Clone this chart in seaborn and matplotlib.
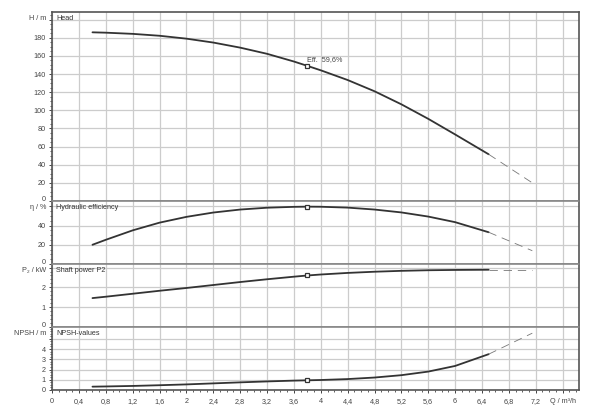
import numpy as np
import pandas as pd
import seaborn as sns
import matplotlib.pyplot as plt
from matplotlib.ticker import MultipleLocator, FixedLocator

# flow rate Q (m3/h) where the curves were read
q = [0.6, 0.8, 1.2, 1.6, 2.0, 2.4, 2.8, 3.2, 3.6, 3.8, 4.0, 4.4, 4.8, 5.2, 5.6, 6.0, 6.5]
head = [186, 185.6, 184.3, 182.2, 179, 174.7, 169.1, 162.3, 153.8, 149, 144.1, 133.4, 121, 106.6, 90.6, 73.4, 51.5]
eff = [20, 25.2, 35, 43, 49, 53.5, 56.6, 58.5, 59.4, 59.6, 59.5, 58.6, 56.6, 53.6, 49.3, 43.5, 33]
power = [1.46, 1.53, 1.68, 1.83, 1.97, 2.12, 2.27, 2.41, 2.54, 2.6, 2.65, 2.73, 2.79, 2.835, 2.865, 2.88, 2.89]
npsh = [0.33, 0.35, 0.4, 0.47, 0.55, 0.65, 0.75, 0.84, 0.92, 0.95, 0.98, 1.07, 1.22, 1.45, 1.8, 2.35, 3.5]

# dashed extension beyond the allowed range
q_ext = [6.5, 7.15]
head_ext = [51.5, 20]
eff_ext = [33, 13.8]
power_ext = [2.89, 2.89]
npsh_ext = [3.5, 5.55]

q_duty = 3.8
eff_label = 'Eff.  59,6%'

df = pd.DataFrame({'Q': q, 'Head': head, 'Eff': eff, 'Power': power, 'NPSH': npsh})
df_ext = pd.DataFrame({'Q': q_ext, 'Head': head_ext, 'Eff': eff_ext, 'Power': power_ext, 'NPSH': npsh_ext})
duty = df[df['Q'] == q_duty]

sns.set_style('white')
plt.rcParams['font.family'] = ['Liberation Sans', 'DejaVu Sans']
fs = 5.2

fig, axes = plt.subplots(4, 1, figsize=(6, 4.11), dpi=100, sharex=True,
                         gridspec_kw={'height_ratios': [3, 1, 1, 1], 'hspace': 0})
fig.subplots_adjust(left=0.087, right=0.9655, top=0.971, bottom=0.051)

# column, title, ylim top, major step, minor step, top tick, unit label
panels = [
    ('Head', 'Head', 208.5, 20, 5, 200, 'H / m'),
    ('Eff', 'Hydraulic efficiency', 65.5, 20, 5, 60, 'η / %'),
    ('Power', 'Shaft power P2', 3.18, 1, 0.2, 3, 'P₂ / kW'),
    ('NPSH', 'NPSH-values', 6.15, 1, 0.25, 5, 'NPSH / m'),
]

line_col = '#333333'
grid_col = '#cccccc'
txt_col = '#444444'

for i, (ax, (col, title, ytop, major, minor, upos, ulabel)) in enumerate(zip(axes, panels)):
    sns.lineplot(data=df, x='Q', y=col, ax=ax, color=line_col, lw=1.3, sort=False)
    sns.lineplot(data=df_ext, x='Q', y=col, ax=ax, color='#777777', lw=0.6,
                 dashes=False, linestyle=(0, (10, 7)))
    ax.plot(duty['Q'], duty[col], 's', ms=3, mfc='white', mec=line_col, mew=0.9)

    ax.set_xlim(0, 7.85)
    ax.set_ylim(0, ytop)
    ticks = list(np.arange(0, upos + major / 2, major))
    ax.yaxis.set_major_locator(FixedLocator(ticks))
    # 0 and the unit label are drawn by hand so they do not collide between panels
    ax.set_yticklabels([''] + [f'{t:g}' for t in ticks[1:-1]] + [''])
    ax.yaxis.set_minor_locator(MultipleLocator(minor))
    ax.xaxis.set_major_locator(MultipleLocator(0.4))
    ax.xaxis.set_minor_locator(MultipleLocator(0.1))
    ax.grid(True, which='major', color=grid_col, lw=0.9)
    ax.set_axisbelow(True)
    ax.tick_params(axis='y', which='major', direction='out', length=2.5, width=0.7,
                   colors=txt_col, labelsize=fs, pad=2, left=True)
    ax.tick_params(axis='y', which='minor', direction='out', length=1.5, width=0.6,
                   colors=txt_col, left=True)
    ax.tick_params(axis='x', which='both', bottom=False)
    ax.set_xlabel('')
    ax.set_ylabel('')
    for s in ax.spines.values():
        s.set_color('#888888')
        s.set_linewidth(1.2)

    zero_dy = 1.2 if i < 3 else 0
    ax.annotate('0', xy=(0, 0), xycoords=('axes fraction', 'data'), xytext=(-4.5, zero_dy),
                textcoords='offset points', ha='right', va='center', fontsize=fs, color=txt_col)
    ax.annotate(ulabel, xy=(0, 1), xycoords='axes fraction', xytext=(-4.5, -5),
                textcoords='offset points', ha='right', va='center', fontsize=fs, color=txt_col)
    ax.annotate(title, xy=(0, 1), xycoords='axes fraction', xytext=(3, -4.5),
                textcoords='offset points', ha='left', va='center', fontsize=fs, color='#333333')

axes[0].spines['top'].set_color('#555555')
for ax in axes:
    ax.spines['left'].set_color('#555555')
    ax.spines['right'].set_color('#555555')
axes[-1].spines['bottom'].set_color('#555555')

axes[0].text(q_duty, duty['Head'].iloc[0] + 3, eff_label,
             fontsize=fs, color=txt_col, ha='left', va='bottom')

# x axis ticks and labels on the bottom panel
xt = list(np.arange(0, 7.61, 0.4))
axes[-1].set_xticks(xt)
axes[-1].set_xticklabels([f'{t:g}'.replace('.', ',') for t in xt[:-1]] + ['Q / m³/h'])
axes[-1].tick_params(axis='x', which='major', bottom=True, direction='out', length=2.5,
                     width=0.7, colors=txt_col, labelsize=fs, pad=3)
axes[-1].tick_params(axis='x', which='minor', bottom=True, direction='out', length=1.5,
                     width=0.6, colors=txt_col)

fig.savefig('out.png', dpi=100)
